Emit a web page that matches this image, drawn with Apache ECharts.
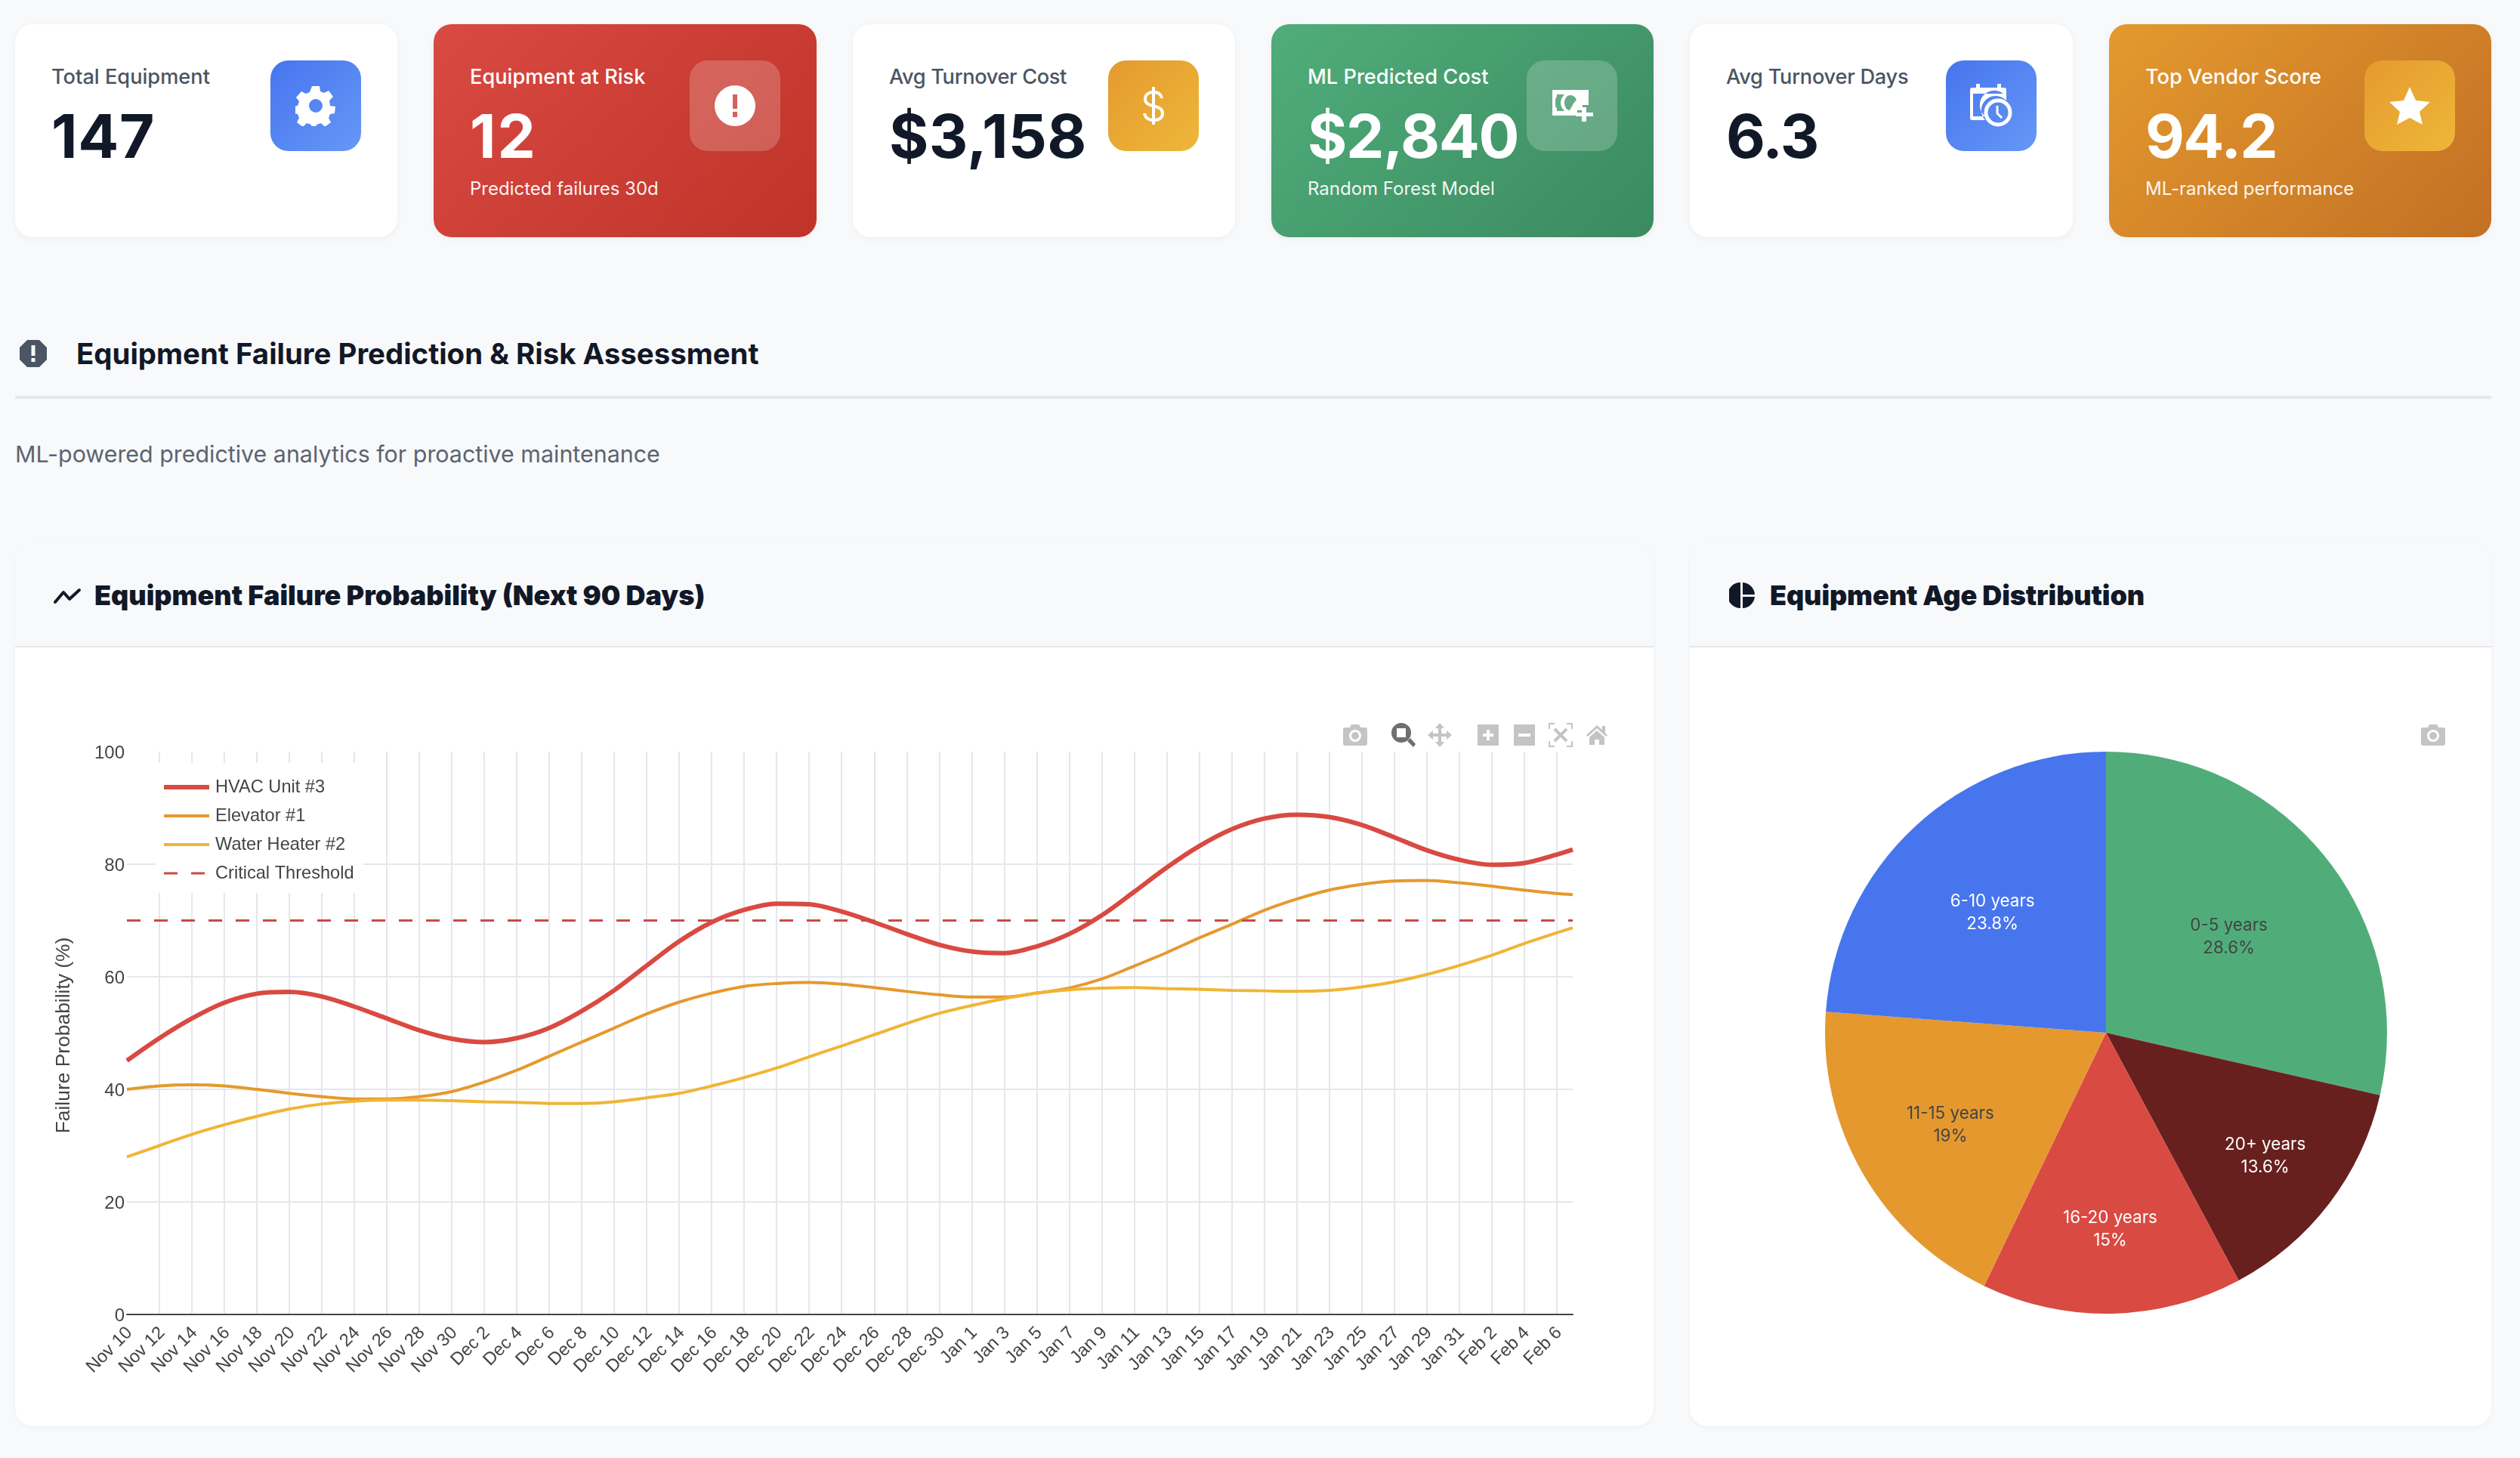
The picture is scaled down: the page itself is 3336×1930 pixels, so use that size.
<!DOCTYPE html>
<html><head><meta charset="utf-8">
<script src="https://cdn.jsdelivr.net/npm/echarts@6/dist/echarts.min.js"></script>
<style>
html,body{margin:0;padding:0;background:#f8f9fb;width:3336px;height:1930px;overflow:hidden;font-family:Inter,sans-serif}
.abs,.card,.ico,.t{position:absolute}
.card{top:32px;height:282px;border-radius:24px;background:#fff;box-shadow:0 2px 8px rgba(0,0,0,.05)}
.ico{top:48px;width:120px;height:120px;border-radius:24px;display:flex;align-items:center;justify-content:center}
.lab{position:absolute;top:52px;font-size:27.2px;line-height:36px;font-weight:500;color:#4b5563;white-space:nowrap}
.val{position:absolute;top:100px;font-size:80px;line-height:96px;font-weight:700;color:#111827;white-space:nowrap}
.sub{position:absolute;top:201px;font-size:24px;line-height:34px;font-weight:400;color:rgba(255,255,255,.95);white-space:nowrap}
.col .lab,.col .val{color:#fff}
.blue{background:linear-gradient(135deg,#4675ee,#6598f6)}
.gold{background:linear-gradient(135deg,#e49a2e,#eeb739)}
.glass{background:rgba(255,255,255,.2)}
.panel{position:absolute;top:720px;height:1168px;border-radius:24px;background:#fff;box-shadow:0 2px 6px rgba(0,0,0,.04);overflow:hidden}
.head{position:absolute;left:0;right:0;top:0;height:135px;background:#f8f9fb;border-bottom:2px solid #e5e7eb}
.ptitle{position:absolute;top:44px;font-size:36px;line-height:48px;font-weight:900;color:#111827;white-space:nowrap}
.chart{position:absolute;left:0;right:0;top:137px;bottom:0}
.mb{position:absolute;top:957px;width:32px;height:32px}
</style></head><body>

<div class="card" style="left:20px;width:506px"><div class="lab" style="left:48px">Total Equipment</div><div class="val" style="left:48px;letter-spacing:.7px">147</div>
<div class="ico blue" style="left:338px"><svg width="54" height="54" viewBox="0 0 54 54"><path fill="#fff" fill-rule="evenodd" d="M22 1h10l1 7 5 2 6-3 6 8-5 5 1 7 7 1v0l-1 9-6 1-2 5 3 6-8 6-5-5-6 2-1 6H22l-1-6-6-2-5 5-8-6 3-6-2-5-6-1v-9l6-1 2-6-4-5 7-8 6 3 5-2zM27 18a9 9 0 1 0 0 18a9 9 0 1 0 0-18z"/></svg></div></div>

<div class="card col" style="left:574px;width:507px;background:linear-gradient(135deg,#d94a42,#bf3329)"><div class="lab" style="left:48px">Equipment at Risk</div><div class="val" style="left:48px;letter-spacing:2px">12</div><div class="sub" style="left:48px">Predicted failures 30d</div>
<div class="ico glass" style="left:339px"><svg width="54" height="54" viewBox="0 0 54 54"><path fill="#fff" fill-rule="evenodd" d="M27 0a27 27 0 1 0 0 54a27 27 0 1 0 0-54zM24 12h6v19h-6zM24 35h6v7h-6z"/></svg></div></div>

<div class="card" style="left:1129px;width:506px"><div class="lab" style="left:48px;letter-spacing:-.35px">Avg Turnover Cost</div><div class="val" style="left:48px;letter-spacing:.35px">$3,158</div>
<div class="ico gold" style="left:338px"><svg width="30" height="50" viewBox="0 0 30 50"><path fill="none" stroke="#fff" stroke-width="4" d="M26 15c-1-6-6-8-11-8c-6 0-11 3-11 9c0 13 23 6 23 19c0 6-5 9-12 9c-6 0-11-3-12-9M15 0v50"/></svg></div></div>

<div class="card col" style="left:1683px;width:506px;background:linear-gradient(135deg,#50ad7a,#3b8a60)"><div class="lab" style="left:48px">ML Predicted Cost</div><div class="val" style="left:48px;letter-spacing:-1.4px">$2,840</div><div class="sub" style="left:48px">Random Forest Model</div>
<div class="ico glass" style="left:338px"><svg width="56" height="42" viewBox="0 0 56 42"><path fill="#fff" fill-rule="evenodd" d="M2 0h48v20h-8v7h-7v7H2zM8 6c0 3-1 5-2 6v10c2 1 2 3 2 6h10c-3-3-5-7-5-11s2-8 5-11zM26 7c-5 0-8 5-8 10s3 10 7 10l5-9c1-2 3-3 4-5c-1-3-4-6-8-6z"/><path fill="#fff" d="M41 23h6v7h9v5h-9v7h-6v-7h-8v-5h8z"/></svg></div></div>

<div class="card" style="left:2237px;width:507px"><div class="lab" style="left:48px;letter-spacing:-.25px">Avg Turnover Days</div><div class="val" style="left:48px;letter-spacing:-1.4px">6.3</div>
<div class="ico blue" style="left:339px"><svg width="56" height="58" viewBox="0 0 56 58"><path fill="#fff" fill-rule="evenodd" d="M8 0h5v5h23V0h5v5h4c2 0 3 1 3 3v14a17 17 0 0 0-28 26H3c-2 0-3-1-3-3V8c0-2 1-3 3-3h5zM4 13v30h16a18 18 0 0 1 24-30z"/><circle cx="37" cy="38" r="16" fill="none" stroke="#fff" stroke-width="5"/><path d="M36 29v10l6 6" fill="none" stroke="#fff" stroke-width="3"/></svg></div></div>

<div class="card col" style="left:2792px;width:506px;background:linear-gradient(135deg,#e4992e,#c27024)"><div class="lab" style="left:48px">Top Vendor Score</div><div class="val" style="left:48px;letter-spacing:-1.6px">94.2</div><div class="sub" style="left:48px">ML-ranked performance</div>
<div class="ico gold" style="left:338px"><svg width="54" height="50" viewBox="0 0 54 50"><path fill="#fff" d="M27 0l8 18 19 2-14 13 4 17-17-9-17 9 4-17L0 20l19-2z"/></svg></div></div>

<svg class="abs" style="left:26px;top:450px" width="36" height="36" viewBox="0 0 36 36"><path fill="#4b5563" fill-rule="evenodd" d="M10 0h16l10 10v16L26 36H10L0 26V10zM15.500 7h5v14h-5zM15.500 24h5v5h-5z"/></svg>
<div class="abs" style="left:101px;top:442px;font-size:38.4px;line-height:52px;font-weight:700;color:#111827;white-space:nowrap">Equipment Failure Prediction &amp; Risk Assessment</div>
<div class="abs" style="left:20px;top:524px;width:3278px;height:4px;background:#e5e7eb"></div>
<div class="abs" style="left:20px;top:580px;font-size:30.4px;line-height:42px;font-weight:400;color:#5b6472;white-space:nowrap">ML-powered predictive analytics for proactive maintenance</div>

<div class="panel" style="left:20px;width:2169px"><div class="head"></div>
<svg class="abs" style="left:50px;top:58px" width="38" height="22" viewBox="0 0 38 22"><path d="M3 19L14 6l8 9L35 3" fill="none" stroke="#111827" stroke-width="4" stroke-linecap="round" stroke-linejoin="round"/></svg>
<div class="ptitle" style="left:105px">Equipment Failure Probability (Next 90 Days)</div>
<div class="chart" id="lineChart"></div></div>

<div class="panel" style="left:2237px;width:1061px"><div class="head"></div>
<svg class="abs" style="left:52px;top:51px" width="34" height="34" viewBox="0 0 34 34"><path fill="#111827" d="M15 0v34A17 17 0 0 1 15 0zM18 0a17 17 0 0 1 16 16H18zM18 19h16a17 17 0 0 1-16 15z"/></svg>
<div class="ptitle" style="left:106px;letter-spacing:-.1px">Equipment Age Distribution</div>
<div class="chart" id="pieChart"></div></div>

<svg class="mb" style="left:1778px" viewBox="0 0 32 32"><path fill="#c4c4c4" fill-rule="evenodd" d="M3 6h6l2-4h10l2 4h6c2 0 3 1 3 3v18c0 2-1 3-3 3H3c-2 0-3-1-3-3V9c0-2 1-3 3-3zM16 9a8 8 0 1 0 0 16a8 8 0 1 0 0-16zM16 12a5 5 0 1 1 0 10a5 5 0 1 1 0-10z"/></svg>
<svg class="mb" style="left:1842px" viewBox="0 0 32 32"><path fill="#6f6f6f" fill-rule="evenodd" d="M13 0a13 13 0 1 0 0 26a13 13 0 1 0 0-26zM7 7h12v12H7zM21 24l4-4 7 8-3 4z"/></svg>
<svg class="mb" style="left:1890px" viewBox="0 0 32 32"><path fill="#c4c4c4" d="M16 0l6 7h-4v7h7v-4l7 6-7 6v-4h-7v7h4l-6 7-6-7h4v-7H7v4l-7-6 7-6v4h7V7h-4z"/></svg>
<svg class="mb" style="left:1956px;width:28px" viewBox="0 0 28 32"><path fill="#c4c4c4" fill-rule="evenodd" d="M0 2h28v28H0zM12 9v5H7v4h5v5h4v-5h5v-4h-5V9z"/></svg>
<svg class="mb" style="left:2004px;width:28px" viewBox="0 0 28 32"><path fill="#c4c4c4" fill-rule="evenodd" d="M0 2h28v28H0zM6 14v4h16v-4z"/></svg>
<svg class="mb" style="left:2050px" viewBox="0 0 32 32"><path fill="none" stroke="#c4c4c4" stroke-width="2" d="M1 8V1h7M24 1h7v7M31 24v7h-7M8 31H1v-7"/><path fill="none" stroke="#c4c4c4" stroke-width="4" d="M8 8l16 16M24 8L8 24"/></svg>
<svg class="mb" style="left:2100px;width:28px" viewBox="0 0 28 32"><path fill="#c4c4c4" d="M14 3l7 6V4h4v9l3 3-2 2L14 7 2 18l-2-2zM14 10l10 9v10h-7v-7h-6v7H4V19z"/></svg>
<svg class="mb" style="left:3205px" viewBox="0 0 32 32"><path fill="#c4c4c4" fill-rule="evenodd" d="M3 6h6l2-4h10l2 4h6c2 0 3 1 3 3v18c0 2-1 3-3 3H3c-2 0-3-1-3-3V9c0-2 1-3 3-3zM16 9a8 8 0 1 0 0 16a8 8 0 1 0 0-16zM16 12a5 5 0 1 1 0 10a5 5 0 1 1 0-10z"/></svg>

<script>
const days = ['Nov 10','Nov 11','Nov 12','Nov 13','Nov 14','Nov 15','Nov 16','Nov 17','Nov 18','Nov 19','Nov 20','Nov 21','Nov 22','Nov 23','Nov 24','Nov 25','Nov 26','Nov 27','Nov 28','Nov 29','Nov 30',
'Dec 1','Dec 2','Dec 3','Dec 4','Dec 5','Dec 6','Dec 7','Dec 8','Dec 9','Dec 10','Dec 11','Dec 12','Dec 13','Dec 14','Dec 15','Dec 16','Dec 17','Dec 18','Dec 19','Dec 20','Dec 21','Dec 22','Dec 23','Dec 24','Dec 25','Dec 26','Dec 27','Dec 28','Dec 29','Dec 30','Dec 31',
'Jan 1','Jan 2','Jan 3','Jan 4','Jan 5','Jan 6','Jan 7','Jan 8','Jan 9','Jan 10','Jan 11','Jan 12','Jan 13','Jan 14','Jan 15','Jan 16','Jan 17','Jan 18','Jan 19','Jan 20','Jan 21','Jan 22','Jan 23','Jan 24','Jan 25','Jan 26','Jan 27','Jan 28','Jan 29','Jan 30','Jan 31',
'Feb 1','Feb 2','Feb 3','Feb 4','Feb 5','Feb 6','Feb 7'];
// Values at every second day, plus the last day (Feb 7).
const sampledDays = ['Nov 10','Nov 12','Nov 14','Nov 16','Nov 18','Nov 20','Nov 22','Nov 24','Nov 26','Nov 28','Nov 30','Dec 2','Dec 4','Dec 6','Dec 8','Dec 10','Dec 12','Dec 14','Dec 16','Dec 18','Dec 20','Dec 22','Dec 24','Dec 26','Dec 28','Dec 30','Jan 1','Jan 3','Jan 5','Jan 7','Jan 9','Jan 11','Jan 13','Jan 15','Jan 17','Jan 19','Jan 21','Jan 23','Jan 25','Jan 27','Jan 29','Jan 31','Feb 2','Feb 4','Feb 6','Feb 7'];
const hvac = [45.1,49.1,52.6,55.4,57,57.3,56.5,54.7,52.6,50.5,49,48.4,49.1,50.9,53.9,57.6,62,66.3,69.7,71.9,73,72.9,71.6,69.7,67.6,65.7,64.5,64.2,65.4,67.6,70.9,75.1,79.4,83.2,86.2,88.1,88.8,88.4,87,84.8,82.5,80.8,79.9,80.2,81.7,82.6];
const elevator = [40,40.6,40.8,40.6,40,39.3,38.7,38.3,38.3,38.7,39.6,41.3,43.4,45.9,48.4,50.9,53.4,55.5,57.1,58.3,58.8,59,58.7,58.1,57.4,56.8,56.4,56.4,57.1,58,59.6,61.9,64.3,66.9,69.3,71.8,73.8,75.4,76.4,77,77.1,76.7,76.1,75.4,74.8,74.6];
const waterHeater = [28,30,32,33.7,35.2,36.5,37.4,37.9,38.1,38.1,38,37.8,37.7,37.5,37.5,37.8,38.5,39.3,40.6,42.1,43.8,45.8,47.7,49.7,51.7,53.5,54.9,56.1,57.1,57.7,58,58.1,57.9,57.8,57.6,57.5,57.4,57.6,58.2,59.1,60.4,62,63.8,65.9,67.8,68.7];
const thresholdDays = ['Nov 10','Feb 7'];
const thresholdValues = [70,70];
const yTicks = {min:0,max:100,step:20};

const ageGroups = ['0-5 years','20+ years','16-20 years','11-15 years','6-10 years'];
const ageCounts = [42,20,22,28,35];
const ageColors = ['#50ad7a','#68201f','#d94a42','#e4982e','#4775ee'];
const ageTextColors = ['#444','#fff','#fff','#444','#fff'];
const ageLabelRadius = [205,262,254,235,218];

const plotFont = '"Liberation Sans",Arial,sans-serif';
const pts = (xs,ys)=>xs.map((d,i)=>[d,ys[i]]);
const line = (name,xs,ys,color,width,type)=>({name,type:'line',data:pts(xs,ys),smooth:type?false:0.33,symbol:'none',
  lineStyle:{color,width,type:type||'solid',cap:'butt'},itemStyle:{color},emphasis:{disabled:true},animation:false});

const lc = echarts.init(document.getElementById('lineChart'),null,{renderer:'canvas'});
lc.setOption({
  animation:false,
  grid:{left:148,right:107,top:138,bottom:148,containLabel:false},
  legend:{orient:'vertical',left:186,top:153,padding:[20,12,14,11],itemWidth:60,itemHeight:24,itemGap:14,backgroundColor:'#fff',
    textStyle:{fontFamily:plotFont,fontSize:23.6,color:'#444',padding:[0,0,0,3]},
    data:[
      {name:'HVAC Unit #3',icon:'path://M0 0H60V6H0Z'},
      {name:'Elevator #1',icon:'path://M0 0H60V4H0Z'},
      {name:'Water Heater #2',icon:'path://M0 0H60V4H0Z'},
      {name:'Critical Threshold',icon:'path://M0 0H18V3H0ZM36 0H54V3H36ZM60 0L60 3Z'}
    ]},
  xAxis:{type:'category',data:days,boundaryGap:false,
    axisLine:{show:true,lineStyle:{color:'#444',width:2}},axisTick:{show:false},
    axisLabel:{interval:1,rotate:45,margin:17,hideOverlap:false,formatter:(v)=>'{t|'+v+'}',
      rich:{t:{fontFamily:plotFont,fontSize:23.6,color:'#444',padding:[10,0,0,0]}}},
    splitLine:{show:true,interval:(i)=>i>0&&i%2===0,lineStyle:{color:'#e5e7ec',width:2}}},
  yAxis:{type:'value',min:yTicks.min,max:yTicks.max,interval:yTicks.step,
    name:'Failure Probability (%)',nameLocation:'middle',nameGap:70,
    nameTextStyle:{fontFamily:plotFont,fontSize:26.4,color:'#444',padding:[0,6,0,0]},
    axisLine:{show:false},axisTick:{show:false},
    axisLabel:{margin:3,formatter:(v)=>'{t|'+v+'}',
      rich:{t:{fontFamily:plotFont,fontSize:24,color:'#444',padding:[4,0,0,0]}}},
    splitLine:{show:true,showMaxLine:false,lineStyle:{color:'#e5e7ec',width:2}}},
  series:[
    line('HVAC Unit #3',sampledDays,hvac,'#d94a42',6),
    line('Elevator #1',sampledDays,elevator,'#e5992d',4),
    line('Water Heater #2',sampledDays,waterHeater,'#f0b535',4),
    line('Critical Threshold',thresholdDays,thresholdValues,'#c94a45',3,[18,18])
  ]
});

const total = ageCounts.reduce((a,b)=>a+b,0);
const mids = (()=>{let c=0;return ageCounts.map(v=>{const m=c+v/2;c+=v;return m/total*2*Math.PI;});})();
const R = 372;
const pc = echarts.init(document.getElementById('pieChart'),null,{renderer:'canvas'});
pc.setOption({
  animation:false,
  series:[{type:'pie',center:[551,510],radius:[0,R],startAngle:90,clockwise:true,animation:false,
    data:ageGroups.map((name,i)=>({name,value:ageCounts[i],itemStyle:{color:ageColors[i]},
      label:{color:ageTextColors[i]}})),
    label:{show:true,position:'inner',fontFamily:'Inter,sans-serif',fontSize:22.4,lineHeight:30,align:'center',
      formatter:(p)=>{const s=(p.value/total*100).toFixed(1).replace(/\.0$/,'');return p.name+'\n'+s+'%';}},
    labelLine:{show:false},
    labelLayout:(p)=>{const i=p.dataIndex,d=ageLabelRadius[i]-R/2;return {dx:d*Math.sin(mids[i]),dy:3-d*Math.cos(mids[i])};},
    emphasis:{disabled:true}}]
});
</script>
</body></html>
